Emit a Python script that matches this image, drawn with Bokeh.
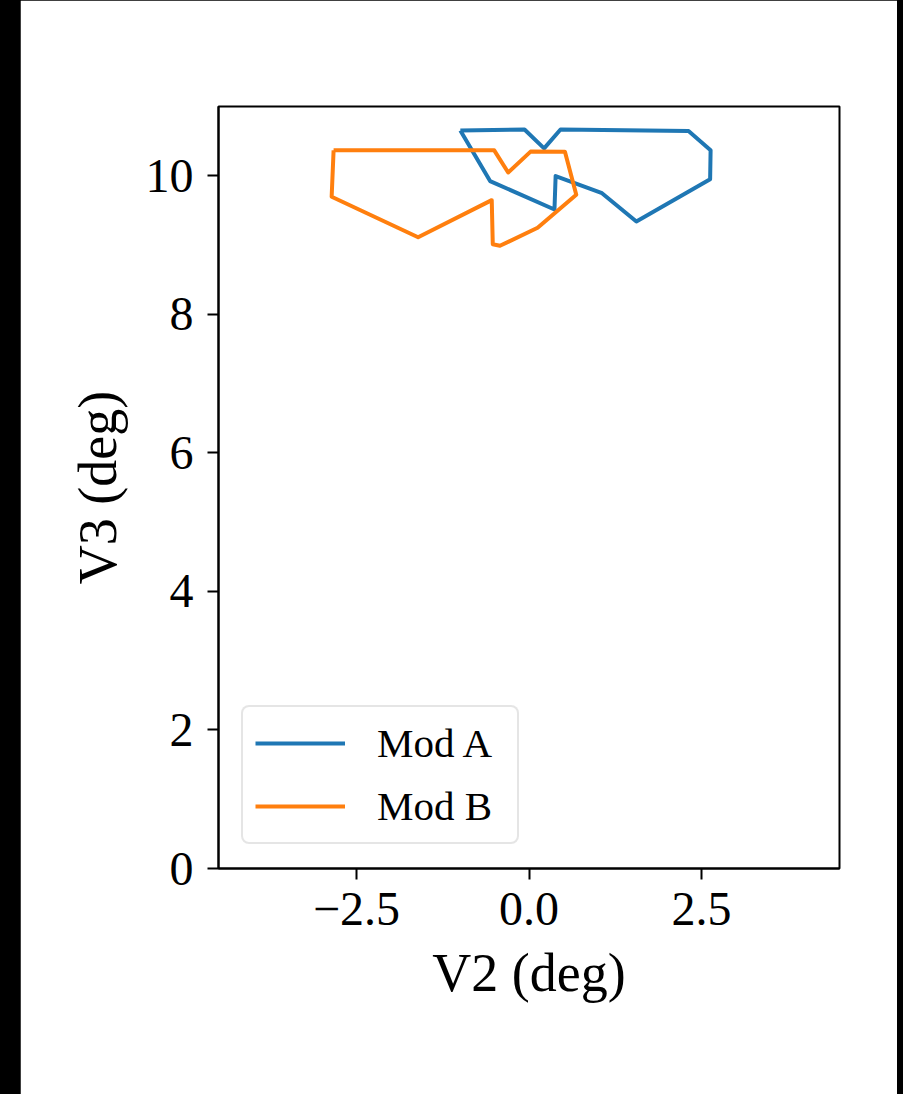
from bokeh.plotting import figure
from bokeh.models import Range1d, FixedTicker, Legend, LegendItem
from bokeh.layouts import column
from bokeh.embed import file_html
from bokeh.resources import INLINE

# ---- data ----
mod_a_v2 = [-0.995, -0.065, 0.219, 0.457, 2.312, 2.632, 2.625, 1.556, 1.058, 0.386, 0.369, -0.564, -0.995]
mod_a_v3 = [10.652, 10.668, 10.396, 10.668, 10.645, 10.370, 9.951, 9.341, 9.748, 9.996, 9.513, 9.923, 10.652]

mod_b_v2 = [-2.832, -0.504, -0.302, 0.023, 0.521, 0.685, 0.125, -0.421, -0.525, -0.540, -1.607, -2.860, -2.832]
mod_b_v3 = [10.367, 10.367, 10.047, 10.349, 10.346, 9.727, 9.250, 8.989, 9.012, 9.648, 9.112, 9.698, 10.367]

series_names = ["Mod A", "Mod B"]
series_colors = ["#1f77b4", "#ff7f0e"]

x_ticks = [-2.5, 0.0, 2.5]
x_tick_labels = ["\u22122.5", "0.0", "2.5"]
y_ticks = [0, 2, 4, 6, 8, 10]
y_tick_labels = ["0", "2", "4", "6", "8", "10"]

x_label = "V2 (deg)"
y_label = "V3 (deg)"

FONT = "Liberation Serif"

p = figure(width=877, height=1094, output_backend="svg", toolbar_location=None,
           x_range=Range1d(-4.5, 4.5), y_range=Range1d(0, 11),
           min_border_left=198, min_border_right=58, min_border_top=106, min_border_bottom=226)
p.margin = (0, 6, 0, 20)
p.background_fill_color = "white"
p.border_fill_color = "white"
p.outline_line_color = "black"
p.outline_line_width = 2
p.grid.visible = False

r_a = p.line(mod_a_v2, mod_a_v3, line_color=series_colors[0], line_width=4, line_join="round")
r_b = p.line(mod_b_v2, mod_b_v3, line_color=series_colors[1], line_width=4, line_join="round")

p.xaxis.ticker = FixedTicker(ticks=x_ticks)
p.xaxis.major_label_overrides = {t: l for t, l in zip(x_ticks, x_tick_labels)}
p.yaxis.ticker = FixedTicker(ticks=y_ticks)
p.yaxis.major_label_overrides = {t: l for t, l in zip(y_ticks, y_tick_labels)}

for ax in (p.xaxis[0], p.yaxis[0]):
    ax.axis_line_color = "black"
    ax.axis_line_width = 2
    ax.major_tick_line_color = "black"
    ax.major_tick_line_width = 2
    ax.major_tick_out = 11
    ax.major_tick_in = 0
    ax.minor_tick_line_color = None
    ax.major_label_text_font = FONT
    ax.major_label_text_font_size = "48px"
    ax.major_label_text_color = "black"
    ax.axis_label_text_font = FONT
    ax.axis_label_text_font_size = "54px"
    ax.axis_label_text_font_style = "normal"
    ax.axis_label_text_color = "black"

p.xaxis.axis_label = x_label
p.yaxis.axis_label = y_label
p.xaxis.major_label_standoff = 13
p.yaxis.major_label_standoff = 14
p.xaxis.axis_label_standoff = 15
p.yaxis.axis_label_standoff = 15

legend = Legend(items=[LegendItem(label=series_names[0], renderers=[r_a]),
                       LegendItem(label=series_names[1], renderers=[r_b])],
                location=(23, 24))
legend.margin = 0
legend.padding = 12
legend.spacing = 15
legend.glyph_width = 90
legend.label_standoff = 32
legend.label_text_font = FONT
legend.label_text_font_size = "41px"
legend.label_text_color = "black"
legend.label_height = 47
legend.label_width = 128
legend.border_line_color = "#cccccc"
legend.border_line_width = 2
legend.background_fill_color = "white"
legend.background_fill_alpha = 0.8
if "border_radius" in Legend.properties():
    legend.border_radius = 8
p.add_layout(legend)

page = column(p, styles={"background-color": "black"})

open("out.html", "w").write(file_html(page, INLINE))
